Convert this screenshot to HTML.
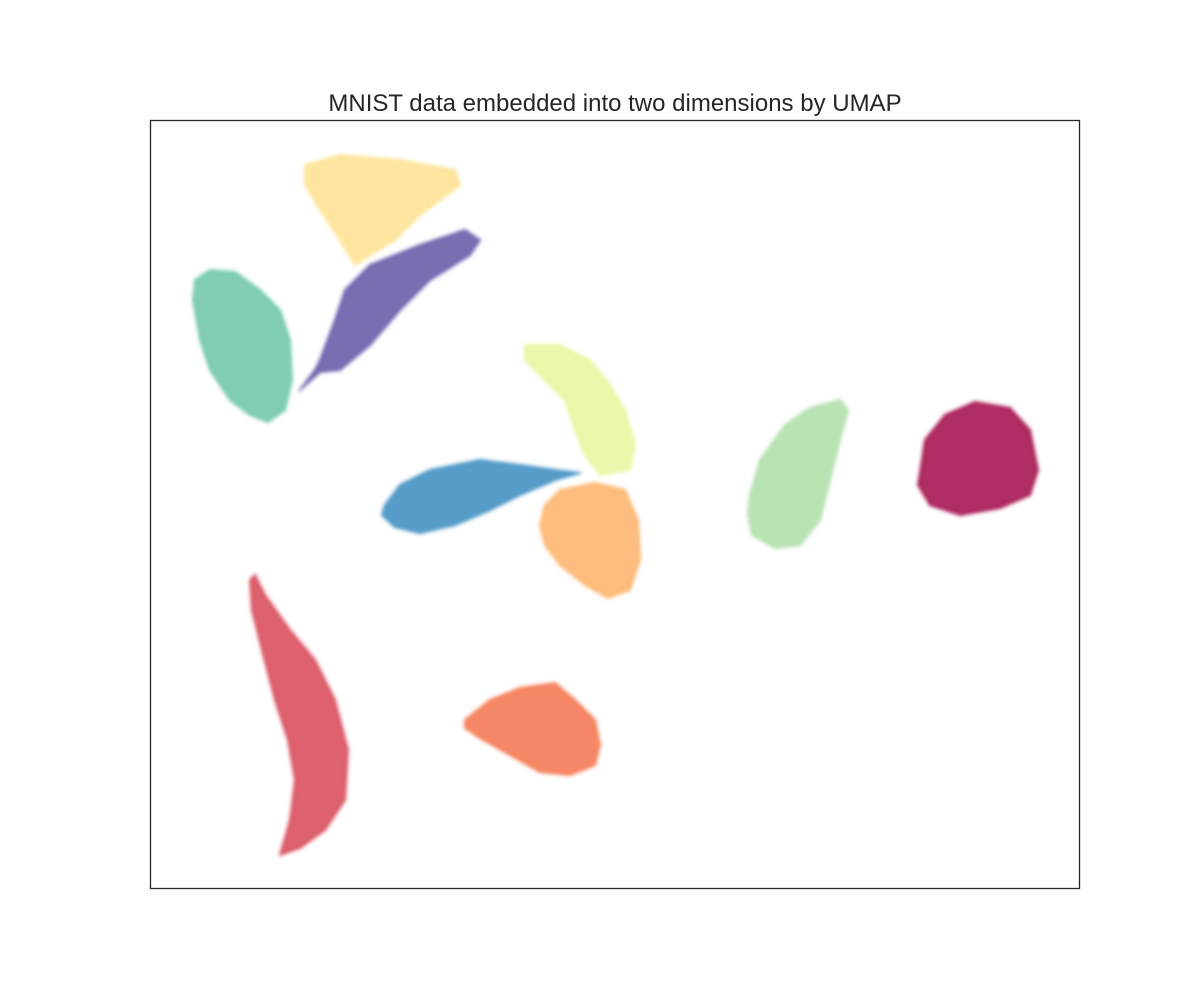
<!DOCTYPE html>
<html><head><meta charset="utf-8"><style>
body{margin:0;background:#fff;font-family:"Liberation Sans",sans-serif}
svg{display:block}
</style></head><body>
<svg id="chart" width="1200" height="1000" viewBox="0 0 1200 1000">
<defs><filter id="soft" x="-10%" y="-10%" width="120%" height="120%"><feGaussianBlur stdDeviation="1.5"/></filter></defs>
<rect width="1200" height="1000" fill="#fff"/>
<text x="615" y="111" text-anchor="middle" font-size="24" fill="#262626" font-family="Liberation Sans, sans-serif">MNIST data embedded into two dimensions by UMAP</text>
<g id="clusters" filter="url(#soft)"></g>
<rect x="150.5" y="120.5" width="929" height="768" fill="none" stroke="#262626" stroke-width="1.3"/>
</svg>
<script>
// cluster labels and colours
const digits = ["0","1","2","3","4","5","6","7","8","9"];
const colors = ["#9e0142","#d53e4f","#f46d43","#fdae61","#fee08b","#e6f598","#abdda4","#66c2a5","#3288bd","#5e4fa2"];
// cluster outlines in data coordinates (x right, y up), domain x 0..930, y 0..769
const outline0 = [[775,449],[795,474],[825,487],[860,481],[880,459],[888,419],[880,394],[850,381],[810,374],[780,384],[768,404],[772,429]];
const outline1 = [[100,309],[105,314],[115,294],[140,259],[165,229],[185,189],[198,139],[195,89],[175,59],[150,41],[130,34],[140,69],[145,109],[138,149],[125,189],[112,239],[102,279]];
const outline2 = [[315,169],[340,189],[370,201],[405,206],[425,189],[445,169],[450,144],[445,124],[420,114],[390,117],[360,134],[330,151],[315,161]];
const outline3 = [[395,384],[410,399],[445,406],[475,399],[488,369],[490,329],[480,299],[458,291],[435,304],[410,324],[395,344],[390,364]];
const outline4 = [[155,724],[190,734],[250,729],[305,719],[310,704],[290,689],[270,674],[245,649],[220,634],[205,624],[190,649],[170,679],[155,704]];
const outline5 = [[375,544],[410,544],[440,529],[460,504],[475,479],[485,444],[480,419],[450,414],[435,434],[425,459],[415,489],[395,509],[375,529]];
const outline6 = [[600,394],[610,429],[635,464],[660,481],[690,489],[698,479],[690,449],[680,409],[670,369],[650,344],[625,341],[602,354],[598,374]];
const outline7 = [[45,609],[60,619],[85,617],[110,599],[130,579],[140,549],[142,509],[135,479],[118,467],[100,474],[80,489],[60,519],[50,549],[43,589]];
const outline8 = [[235,384],[250,404],[280,419],[330,429],[370,424],[405,419],[430,416],[405,409],[370,394],[340,379],[305,364],[270,356],[245,362],[232,374]];
const outline9 = [[170,529],[185,569],[195,599],[220,624],[270,644],[315,659],[330,649],[320,634],[280,609],[250,579],[220,544],[190,519],[170,517],[150,499],[165,519]];
const outlines = [outline0,outline1,outline2,outline3,outline4,outline5,outline6,outline7,outline8,outline9];

const X0=150, Y0=889;
function sx(x){return X0+x;}
function sy(y){return Y0-y;}
const g=document.getElementById('clusters');
const NS="http://www.w3.org/2000/svg";
outlines.forEach((pts,i)=>{
  const p=document.createElementNS(NS,'polygon');
  p.setAttribute('points',pts.map(q=>sx(q[0])+','+sy(q[1])).join(' '));
  p.setAttribute('fill',colors[i]);
  p.setAttribute('fill-opacity','0.82');
  p.setAttribute('stroke',colors[i]);
  p.setAttribute('stroke-opacity','0.4');
  p.setAttribute('stroke-width','4');
  p.setAttribute('stroke-linejoin','round');
  
  
  g.appendChild(p);
});
</script>
</body></html>
